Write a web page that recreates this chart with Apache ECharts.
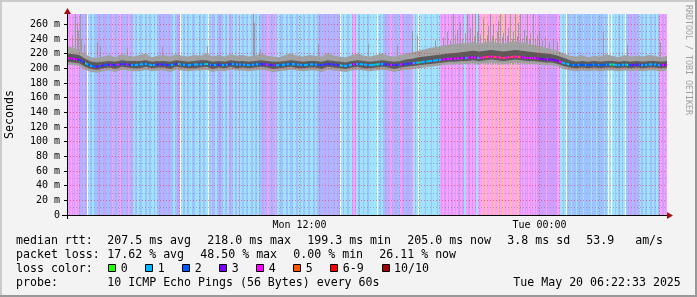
<!DOCTYPE html>
<html><head><meta charset="utf-8">
<script src="https://cdn.jsdelivr.net/npm/echarts@6/dist/echarts.min.js"></script>
<style>html,body{margin:0;padding:0;background:#f3f3f3}#c{width:697px;height:297px}</style>
</head><body><div id="c"></div>
<script>
// time axis in minutes after Mon 00:00; window = last 30 hours ending Tue 06:22:33
const START = 22.55;
const SPAN = 1800;
const STEP = 3;           // minutes per loss sample (one pixel)
const YMAX = 274;

const yTickValues = [0,20,40,60,80,100,120,140,160,180,200,220,240,260];
const yMinorValues = [10,30,50,70,90,110,130,150,170,190,210,230,250,270];
const xMajorValues = [360,720,1080,1440,1800];
const xMinorValues = [60,120,180,240,300,420,480,540,600,660,780,840,900,960,1020,1140,1200,1260,1320,1380,1500,1560,1620,1680,1740];
const xLabelValues = [720,1440];
const xLabelTexts = ['Mon 12:00','Tue 00:00'];

// packet loss (x of 10) per 3-minute sample
const lossSamples =
  '4434434344343' + '3232233' + '0' + '1122112' + '222332223332222' +
  '33422332244332223342233' + '112211122111221122111211' + '22332233222332221122332' + '0' +
  '112211221112221111221122111' + '0' + '2213221122332211221133221122113' +
  '11221122111221122112' + '22332234422332243' + '111222111221122211122' +
  '1121122111221112211' + '22332223322332223322332' + '0' +
  '11211122111344311221112111221111' + '1111011211' + '223322344322332224433222332234' +
  '11211' + '0' + '111111211111211111211' + '43443344344334434433' + '44331144334434431144' +
  '4454455444544554445544554445445544544554' + '343443434434344343' + '3333333343333333333' +
  '444' + '111211' + '0' + '2222122221222222122222221222212222222122' + '101101' +
  '112112211211' + '0' + '2232332233223' + '11221122111221122112' + '34433434';

// median RTT (ms), 100 samples across the window
const median = [214,213,212,207,203,202,
204,205,204,206,205,204,205,206,204,205,
205,204,206,205,204,205,205,206,204,205,
204,206,205,205,204,205,206,205,204,204,
205,206,205,204,205,205,204,206,205,204,
203,205,206,205,204,205,206,205,204,205,
206,207,208,209,210,211,212,213,213,214,
214,215,214,215,216,215,214,215,216,215,214,214,213,212,212,
210,207,205,
204,205,204,205,204,205,205,204,205,204,205,204,205,205,204,205];

// dense smoke (inner pings)
const darkLo = [209,208,207,202,199,198,
200,201,199,202,201,200,200,202,200,201,
201,199,202,201,200,200,201,202,199,201,
200,202,200,201,200,201,202,201,199,200,
201,202,200,200,201,201,199,202,201,200,
199,201,202,200,200,201,202,201,199,201,
202,203,204,205,206,207,208,209,209,210,
210,211,210,211,212,211,210,211,212,211,210,210,209,208,208,
206,203,201,
200,201,200,201,200,201,201,200,201,200,201,200,201,201,200,201];

const darkHi = [220,219,218,213,209,208,
209,210,209,211,210,210,210,211,209,210,
210,209,211,210,209,210,211,211,209,210,
209,211,210,210,209,210,211,210,209,209,
210,211,210,209,210,210,209,211,210,209,
208,210,211,210,209,210,211,210,209,210,
212,213,215,216,217,218,219,220,221,222,
223,224,223,224,225,224,223,224,225,224,223,222,221,220,219,
217,214,211,
209,210,209,210,209,210,210,209,210,209,210,209,210,210,209,210];

// outer smoke (outer pings)
const lightLo = [205,204,203,198,195,194,
196,197,195,198,197,196,196,198,196,197,
197,195,198,197,196,197,197,198,195,197,
196,198,197,197,196,197,198,197,195,196,
197,198,197,196,197,197,195,198,197,196,
195,197,198,197,196,197,198,197,195,197,
198,199,200,201,202,203,204,205,205,206,
206,207,206,207,208,207,206,207,208,207,206,206,205,204,204,
202,199,197,
196,197,196,197,196,197,197,196,197,196,197,196,197,197,196,197];

const lightHi = [230,228,225,219,215,214,
216,218,215,219,217,216,218,220,215,217,
218,216,219,217,216,218,217,220,216,218,
216,219,217,218,216,217,220,217,216,215,
218,220,217,216,218,217,216,221,217,216,
215,218,220,217,216,218,220,217,216,218,
220,222,224,226,228,229,231,232,233,234,
234,236,233,235,237,234,233,236,237,235,233,232,230,228,226,
224,220,217,
216,218,215,217,216,219,217,215,218,216,217,216,218,217,215,217];

// isolated tall pings: [sample index, top ms]
const spikes = [[5,245],[8,274],[10,262],[11,252],[13,274],[14,240],[17,232],[30,236],[33,230],[60,228],
[95,229],[140,230],[186,274],[187,262],[193,226],[251,233],[301,233],[330,231],[345,250],[350,245],
[368,238],[376,242],[380,250],[383,238],[386,274],[388,245],[390,252],[393,262],[395,240],[398,248],
[400,274],[403,255],[405,274],[407,244],[408,274],[410,250],[411,274],[413,246],[416,268],[418,240],
[420,245],[421,258],[423,274],[425,244],[426,260],[428,240],[430,250],[431,265],[433,274],[435,242],
[436,248],[438,274],[440,244],[441,255],[443,274],[445,240],[446,250],[448,274],[450,244],[451,262],
[453,274],[455,241],[457,252],[459,244],[460,274],[462,240],[463,248],[466,274],[468,240],[470,245],
[472,250],[475,238],[478,242],[482,236],[486,240],[490,236],[536,250],[560,232],[593,236]];

const lossColors = ['#26ff00','#00b8ff','#0059ff','#7e00ff','#ff00ff','#ff5500','#ff0000','#ff0000','#ff0000','#ff0000','#a00000'];
const legendLabels = ['0','1','2','3','4','5','6-9','10/10'];
const legendColors = ['#26ff00','#00b8ff','#0059ff','#7e00ff','#ff00ff','#ff5500','#ff0000','#a00000'];

const statsRtt = ['207.5 ms avg','218.0 ms max','199.3 ms min','205.0 ms now','3.8 ms sd','53.9   am/s'];
const statsLoss = ['17.62 % avg','48.50 % max','0.00 % min','26.11 % now'];
const probeText = '10 ICMP Echo Pings (56 Bytes) every 60s';
const dateText = 'Tue May 20 06:22:33 2025';

// ---------------------------------------------------------------
const loss = lossSamples.split('').map(Number);
const N = median.length;
const tAt = k => START + k * SPAN / (N - 1);
const pts = arr => arr.map((v, k) => [tAt(k), v]);

function bgColor(l) {
  const c = lossColors[l];
  const r = parseInt(c.slice(1,3),16), g = parseInt(c.slice(3,5),16), b = parseInt(c.slice(5,7),16);
  return 'rgba(' + r + ',' + g + ',' + b + ',0.376)';
}

const stops = [];
loss.forEach((l, i) => {
  stops.push({offset: i / loss.length, color: lossColors[l]});
  stops.push({offset: (i + 1) / loss.length, color: lossColors[l]});
});

const MONO = '"DejaVu Sans Mono", monospace';
const minorLS = {type: [1,2], color: 'rgba(120,120,120,0.45)', width: 1};
const majorLS = {type: [1,2], color: 'rgba(230,40,40,0.55)', width: 1};

function bandSeries(lo, hi, color) {
  return {
    type: 'custom', z: 3, silent: true, clip: true, data: [[START, 0]],
    renderItem: (params, api) => {
      const top = hi.map((v, k) => api.coord([tAt(k), v]));
      const bot = lo.map((v, k) => api.coord([tAt(k), v])).reverse();
      return {type: 'polygon', shape: {points: top.concat(bot)}, style: {fill: color}};
    }
  };
}

const chart = echarts.init(document.getElementById('c'), null, {renderer: 'canvas'});

const graphics = [];
graphics.push({type:'rect', shape:{x:0,y:0,width:697,height:2}, style:{fill:'#cbcbcb'}, z:100});
graphics.push({type:'rect', shape:{x:0,y:0,width:2,height:297}, style:{fill:'#cbcbcb'}, z:100});
graphics.push({type:'rect', shape:{x:0,y:295,width:697,height:2}, style:{fill:'#999999'}, z:100});
graphics.push({type:'rect', shape:{x:695,y:0,width:2,height:297}, style:{fill:'#999999'}, z:100});
graphics.push({type:'line', shape:{x1:62,y1:215.5,x2:668,y2:215.5}, style:{stroke:'#000',lineWidth:1}, z:100});
graphics.push({type:'line', shape:{x1:67.5,y1:219,x2:67.5,y2:13}, style:{stroke:'#000',lineWidth:1}, z:100});
graphics.push({type:'polygon', shape:{points:[[64,14],[71,14],[67.5,8]]}, style:{fill:'#a01010'}, z:100});
graphics.push({type:'polygon', shape:{points:[[667,212],[667,219],[673,215.5]]}, style:{fill:'#a01010'}, z:100});
graphics.push({type:'text', x:688.5, y:60, rotation:-Math.PI/2,
  style:{text:'RRDTOOL / TOBI OETIKER', font:'8.3px ' + MONO, fill:'#a0a0a0', align:'center', verticalAlign:'middle'}, z:100});
function txt(s, x, y) {
  graphics.push({type:'text', x:x, y:y, style:{text:s, font:'11.6px ' + MONO, fill:'#000', verticalAlign:'middle'}, z:100});
}
const rttX = [107.3, 207.3, 307.3, 407.3, 507.3, 586.3];
txt('median rtt:', 16, 241);
statsRtt.forEach((s, i) => txt(s, rttX[i], 241));
const lossX = [107.3, 200.3, 293.3, 379.3];
txt('packet loss:', 16, 255);
statsLoss.forEach((s, i) => txt(s, lossX[i], 255));
txt('loss color:', 16, 268.5);
const boxX = [108.3, 145.3, 182.3, 219.3, 256.3, 293.3, 330.3, 381.7];
legendLabels.forEach((s, i) => {
  graphics.push({type:'rect', shape:{x:Math.round(boxX[i])+0.5, y:264.5, width:7, height:7}, style:{fill:legendColors[i], stroke:'#000', lineWidth:1}, z:100});
  txt(s, boxX[i] + 12.4, 268.5);
});
txt('probe:', 16, 282.5);
txt(probeText, 107.3, 282.5);
txt(dateText, 513.3, 282.5);

const option = {
  animation: false,
  backgroundColor: '#f3f3f3',
  grid: {left: 67, right: 30, top: 14, bottom: 82, show: true, backgroundColor: '#ffffff', borderWidth: 0,
         containLabel: false, outerBoundsMode: 'none'},
  xAxis: {
    type: 'value', min: START, max: START + SPAN, z: 10,
    axisLine: {show: false},
    axisTick: {show: false},
    splitLine: {show: false},
    axisLabel: {
      customValues: xLabelValues,
      formatter: v => xLabelTexts[xLabelValues.indexOf(v)] || '',
      fontFamily: 'DejaVu Sans Mono', fontSize: 10, color: '#000', margin: 5
    }
  },
  yAxis: {
    type: 'value', min: 0, max: YMAX, z: 10,
    name: 'Seconds', nameLocation: 'middle', nameRotate: 90, nameGap: 51,
    nameTextStyle: {fontFamily: 'DejaVu Sans Mono', fontSize: 11.6, color: '#000'},
    axisLine: {show: false},
    axisTick: {show: true, customValues: yTickValues, length: 3, lineStyle: {color: '#000'}},
    splitLine: {show: false},
    axisLabel: {
      customValues: yTickValues,
      formatter: v => v === 0 ? '0' : v + ' m',
      fontFamily: 'DejaVu Sans Mono', fontSize: 10, color: '#000', margin: 7
    }
  },
  series: [
    {
      type: 'custom', z: 1, silent: true, clip: true,
      data: loss.map((l, i) => [START + i * STEP, l]),
      renderItem: (params, api) => {
        const t = api.value(0), l = api.value(1);
        if (l === 0) return null;
        const p0 = api.coord([t, YMAX]);
        const p1 = api.coord([t + STEP, 0]);
        return {type: 'rect', shape: {x: p0[0], y: p0[1], width: p1[0] - p0[0], height: p1[1] - p0[1]},
                style: {fill: bgColor(l)}};
      }
    },
    {
      type: 'line', z: 2, silent: true, data: [[START, -50]], showSymbol: false, lineStyle: {opacity: 0},
      markLine: {
        silent: true, symbol: 'none', label: {show: false}, animation: false,
        data: [].concat(
          yMinorValues.map(v => ({yAxis: v, lineStyle: minorLS})),
          yTickValues.filter(v => v > 0).map(v => ({yAxis: v, lineStyle: majorLS})),
          xMinorValues.map(v => ({xAxis: v, lineStyle: minorLS})),
          xMajorValues.map(v => ({xAxis: v, lineStyle: majorLS}))
        )
      }
    },
    {
      type: 'custom', z: 2.5, silent: true, clip: true,
      data: spikes.map(s => [START + s[0] * STEP + STEP / 2, s[1]]),
      renderItem: (params, api) => {
        const a = api.coord([api.value(0), 205]);
        const b = api.coord([api.value(0), api.value(1)]);
        return {type: 'line', shape: {x1: a[0], y1: a[1], x2: b[0], y2: b[1]},
                style: {stroke: '#9c9c9c', lineWidth: 1}};
      }
    },
    bandSeries(lightLo, lightHi, '#a2a2a2'),
    bandSeries(darkLo, darkHi, '#5a5a5a'),
    {
      type: 'line', z: 4, data: pts(median), showSymbol: false, silent: true,
      lineStyle: {width: 2, color: new echarts.graphic.LinearGradient(0, 0, 1, 0, stops)}
    }
  ],
  graphic: graphics
};
chart.setOption(option);
</script></body></html>
